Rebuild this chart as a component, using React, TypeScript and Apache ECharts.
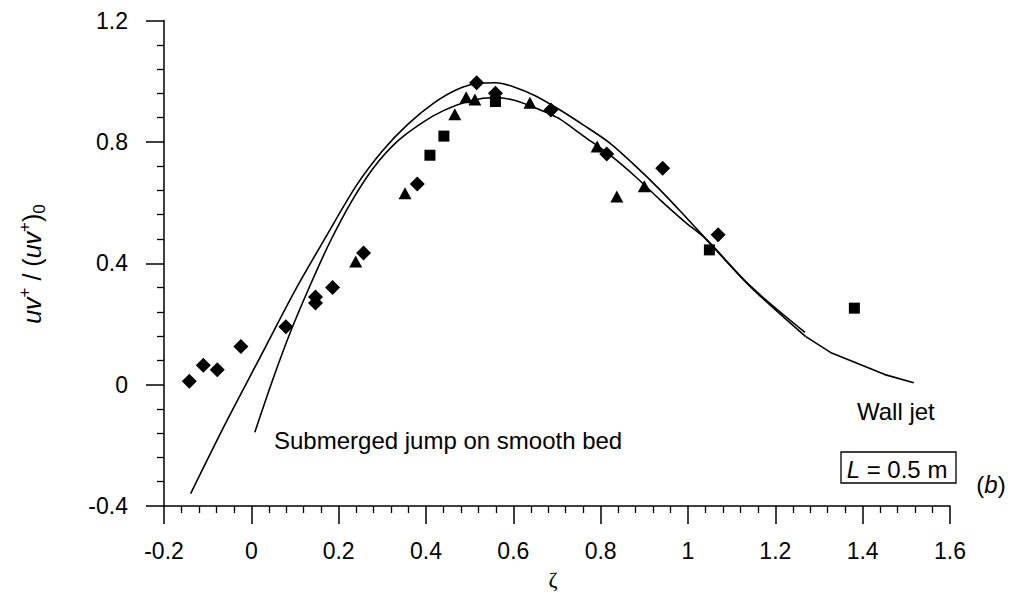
import React, { useEffect, useRef } from "react";
import * as echarts from "echarts";

// Measured points: [zeta, uv+/(uv+)0]
const diamondPoints: number[][] = [
  [-0.142, 0.011], [-0.11, 0.064], [-0.078, 0.049], [-0.024, 0.126],
  [0.079, 0.191], [0.147, 0.289], [0.147, 0.269], [0.186, 0.32],
  [0.257, 0.434], [0.38, 0.661], [0.516, 0.995], [0.559, 0.96],
  [0.686, 0.905], [0.814, 0.76], [0.942, 0.713], [1.069, 0.494],
];
const trianglePoints: number[][] = [
  [0.239, 0.406], [0.352, 0.631], [0.466, 0.891], [0.492, 0.947],
  [0.512, 0.94], [0.638, 0.929], [0.792, 0.785], [0.837, 0.62],
  [0.9, 0.654],
];
const squarePoints: number[][] = [
  [0.409, 0.756], [0.441, 0.819], [0.559, 0.933], [1.049, 0.444],
  [1.381, 0.252],
];

// Wall jet profile (smooth part) and its coarse tail
const wallJetCurve: number[][] = [
  [-0.139, -0.359], [-0.06, -0.13], [0.02, 0.09], [0.1, 0.31],
  [0.17, 0.485], [0.24, 0.655], [0.3, 0.77], [0.36, 0.86],
  [0.42, 0.93], [0.47, 0.972], [0.52, 0.993], [0.56, 0.995],
  [0.6, 0.982], [0.65, 0.952], [0.707, 0.905], [0.76, 0.856],
  [0.821, 0.796], [0.88, 0.72], [0.936, 0.642], [0.99, 0.56],
  [1.043, 0.477], [1.142, 0.324], [1.269, 0.159],
];
const wallJetTail: number[][] = [
  [1.269, 0.159], [1.329, 0.104], [1.451, 0.033], [1.517, 0.006],
];

// Submerged jump on smooth bed profile
const submergedCurve: number[][] = [
  [0.008, -0.157], [0.05, 0.02], [0.09, 0.175], [0.134, 0.325],
  [0.18, 0.47], [0.23, 0.605], [0.28, 0.715], [0.333, 0.8],
  [0.39, 0.862], [0.44, 0.903], [0.5, 0.935], [0.56, 0.946],
  [0.6, 0.938], [0.64, 0.918], [0.686, 0.89], [0.707, 0.875],
  [0.76, 0.82], [0.821, 0.757], [0.88, 0.685], [0.936, 0.609],
  [0.99, 0.54], [1.043, 0.477], [1.142, 0.326], [1.268, 0.172],
];

const xTicks = { min: -0.2, max: 1.6, step: 0.2 };
const yTicks = { min: -0.4, max: 1.2, step: 0.4 };

const SANS = "'Liberation Sans', Arial, Helvetica, sans-serif";
const INK = "#000";

export default function App() {
  const ref = useRef<HTMLDivElement>(null);

  useEffect(() => {
    if (!ref.current) return;
    const chart = echarts.init(ref.current, null, { renderer: "svg" });

    const fmt = (v: number) => String(Math.round(v * 10) / 10);
    const curveLine = { color: INK, width: 1.6 };
    const markStyle = { color: INK, opacity: 1 };

    chart.setOption({
      animation: false,
      backgroundColor: "#fff",
      grid: { left: 164, right: 64, top: 20.5, bottom: 92, containLabel: false },
      xAxis: {
        type: "value",
        min: xTicks.min,
        max: xTicks.max,
        interval: xTicks.step,
        axisLine: { onZero: false, lineStyle: { color: INK, width: 1.5 } },
        axisTick: { inside: false, length: 18, lineStyle: { color: INK, width: 1.5 } },
        minorTick: { show: true, splitNumber: 5, length: 7, lineStyle: { color: INK, width: 1.3 } },
        splitLine: { show: false },
        minorSplitLine: { show: false },
        axisLabel: { formatter: fmt, color: INK, fontSize: 23, fontFamily: SANS, margin: 33 },
      },
      yAxis: {
        type: "value",
        min: yTicks.min,
        max: yTicks.max,
        interval: yTicks.step,
        axisLine: { show: true, onZero: false, lineStyle: { color: INK, width: 1.5 } },
        axisTick: { show: true, inside: false, length: 18, lineStyle: { color: INK, width: 1.5 } },
        minorTick: { show: true, splitNumber: 5, length: 7, lineStyle: { color: INK, width: 1.3 } },
        splitLine: { show: false },
        minorSplitLine: { show: false },
        axisLabel: { formatter: fmt, color: INK, fontSize: 23, fontFamily: SANS, margin: 36 },
      },
      series: [
        {
          name: "Wall jet",
          type: "line",
          data: wallJetCurve,
          smooth: 0.3,
          showSymbol: false,
          lineStyle: curveLine,
          silent: true,
          z: 2,
        },
        {
          name: "Wall jet tail",
          type: "line",
          data: wallJetTail,
          showSymbol: false,
          lineStyle: curveLine,
          silent: true,
          z: 2,
        },
        {
          name: "Submerged jump on smooth bed",
          type: "line",
          data: submergedCurve,
          smooth: 0.3,
          showSymbol: false,
          lineStyle: curveLine,
          silent: true,
          z: 2,
        },
        {
          type: "scatter",
          data: diamondPoints,
          symbol: "diamond",
          symbolSize: 15,
          itemStyle: markStyle,
          z: 3,
        },
        {
          type: "scatter",
          data: trianglePoints,
          symbol: "triangle",
          symbolSize: [13, 12],
          itemStyle: markStyle,
          z: 3,
        },
        {
          type: "scatter",
          data: squarePoints,
          symbol: "rect",
          symbolSize: 11,
          itemStyle: markStyle,
          z: 3,
        },
      ],
      graphic: [
        {
          type: "text",
          x: 32,
          y: 264,
          rotation: Math.PI / 2,
          style: {
            text: "{i|uv}{sup|+}{n| / (}{i|uv}{sup|+}{n|)}{sub|0}",
            align: "center",
            verticalAlign: "middle",
            fill: INK,
            rich: {
              i: { fontFamily: SANS, fontStyle: "italic", fontSize: 25, lineHeight: 32, fill: INK },
              n: { fontFamily: SANS, fontSize: 25, lineHeight: 32, fill: INK },
              sup: { fontFamily: SANS, fontSize: 17, lineHeight: 16, verticalAlign: "top", fill: INK },
              sub: { fontFamily: SANS, fontSize: 17, lineHeight: 16, verticalAlign: "bottom", fill: INK },
            },
          },
        },
        {
          type: "text",
          x: 553,
          y: 579,
          style: {
            text: "ζ",
            font: "22px 'Liberation Serif', 'DejaVu Serif', serif",
            fill: INK,
            align: "center",
            verticalAlign: "middle",
          },
        },
        {
          type: "text",
          x: 274,
          y: 440,
          style: {
            text: "Submerged jump on smooth bed",
            font: `24px ${SANS}`,
            fill: INK,
            align: "left",
            verticalAlign: "middle",
          },
        },
        {
          type: "text",
          x: 857,
          y: 411,
          style: {
            text: "Wall jet",
            font: `24px ${SANS}`,
            fill: INK,
            align: "left",
            verticalAlign: "middle",
          },
        },
        {
          type: "rect",
          shape: { x: 841, y: 452, width: 115, height: 31 },
          style: { fill: "none", stroke: INK, lineWidth: 1.3 },
        },
        {
          type: "text",
          x: 897,
          y: 469,
          style: {
            text: "{i|L}{n| = 0.5 m}",
            align: "center",
            verticalAlign: "middle",
            rich: {
              i: { fontFamily: SANS, fontStyle: "italic", fontSize: 24, fill: INK },
              n: { fontFamily: SANS, fontSize: 24, fill: INK },
            },
          },
        },
        {
          type: "text",
          x: 991,
          y: 484,
          style: {
            text: "{n|(}{i|b}{n|)}",
            align: "center",
            verticalAlign: "middle",
            rich: {
              i: { fontFamily: SANS, fontStyle: "italic", fontSize: 24, fill: INK },
              n: { fontFamily: SANS, fontSize: 24, fill: INK },
            },
          },
        },
      ],
    });

    return () => chart.dispose();
  }, []);

  return (
    <div
      ref={ref}
      style={{ position: "fixed", left: 0, top: 0, width: 1014, height: 598, background: "#fff" }}
    />
  );
}
